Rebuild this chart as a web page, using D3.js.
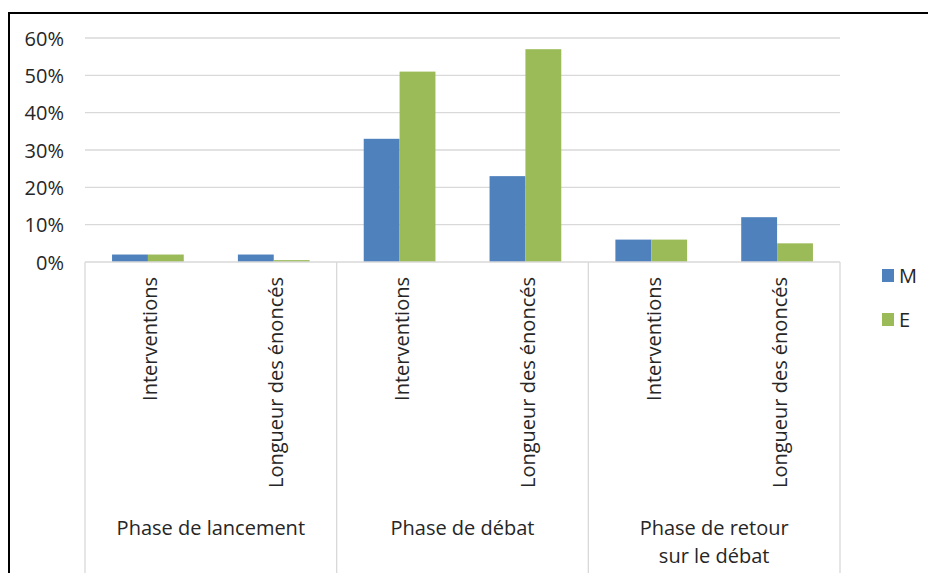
<html>
<head>
<script src="https://d3js.org/d3.v7.min.js"></script>
<style>
  body { margin: 0; background: white; }
  text { font-family: "Open Sans", sans-serif; fill: #262626; }
</style>
</head>
<body>
<svg id="chart" width="928" height="573"></svg>
<script>
  const groups = ["Phase de lancement", "Phase de débat", "Phase de retour\nsur le débat"];
  const measures = ["Interventions", "Longueur des énoncés"];
  const series = ["M", "E"];
  const valuesM = [2, 2, 33, 23, 6, 12];
  const valuesE = [2, 0.5, 51, 57, 6, 5];
  const yTicks = [0, 10, 20, 30, 40, 50, 60];
  const colors = ["#4f81bd", "#9bbb59"];

  const svg = d3.select("#chart");
  const plotLeft = 85, plotRight = 840, plotTop = 38, plotBottom = 262;

  // frame of the picture (top and left edges only)
  svg.append("line").attr("x1", 8).attr("x2", 928).attr("y1", 13).attr("y2", 13)
     .attr("stroke", "black").attr("stroke-width", 2);
  svg.append("line").attr("x1", 9).attr("x2", 9).attr("y1", 12).attr("y2", 573)
     .attr("stroke", "black").attr("stroke-width", 2);

  const cats = [];
  groups.forEach((g, gi) => measures.forEach((m, mi) => cats.push({group: gi, measure: m, i: gi * 2 + mi})));

  const x = d3.scaleBand().domain(cats.map(d => d.i)).range([plotLeft, plotRight]).paddingInner(0.43).paddingOuter(0.215);
  const xs = d3.scaleBand().domain(series).range([0, x.bandwidth()]);
  const y = d3.scaleLinear().domain([0, 60]).range([plotBottom, plotTop]);

  // gridlines
  svg.selectAll("line.grid").data(yTicks.slice(1)).join("line")
     .attr("class", "grid")
     .attr("x1", plotLeft).attr("x2", plotRight)
     .attr("y1", d => y(d)).attr("y2", d => y(d))
     .attr("stroke", "#d9d9d9").attr("stroke-width", 1.3);

  svg.selectAll("text.ytick").data(yTicks).join("text")
     .attr("class", "ytick")
     .attr("x", 64).attr("y", d => y(d))
     .attr("text-anchor", "end").attr("dominant-baseline", "central")
     .style("font-size", "20px")
     .text(d => d + "%");

  // bars
  const data = [valuesM, valuesE];
  series.forEach((s, si) => {
    svg.selectAll("rect.s" + si).data(cats).join("rect")
       .attr("class", "s" + si)
       .attr("x", d => x(d.i) + xs(s))
       .attr("width", xs.bandwidth())
       .attr("y", d => y(data[si][d.i]))
       .attr("height", d => y(0) - y(data[si][d.i]))
       .attr("fill", colors[si]);
  });

  // category axis
  svg.append("line").attr("x1", plotLeft).attr("x2", plotRight).attr("y1", plotBottom).attr("y2", plotBottom)
     .attr("stroke", "#d9d9d9").attr("stroke-width", 1.3);
  const gw = (plotRight - plotLeft) / groups.length;
  svg.selectAll("line.sep").data(d3.range(groups.length + 1)).join("line")
     .attr("class", "sep")
     .attr("x1", d => plotLeft + d * gw).attr("x2", d => plotLeft + d * gw)
     .attr("y1", plotBottom).attr("y2", 573)
     .attr("stroke", "#d9d9d9").attr("stroke-width", 1.3);

  svg.selectAll("text.cat").data(cats).join("text")
     .attr("class", "cat")
     .attr("transform", d => "translate(" + (x(d.i) + x.bandwidth() / 2 + 2) + ",277) rotate(-90)")
     .attr("text-anchor", "end").attr("dominant-baseline", "central")
     .style("font-size", "20px")
     .text(d => d.measure);

  groups.forEach((g, gi) => {
    const t = svg.append("text")
       .attr("x", plotLeft + gi * gw + gw / 2).attr("y", 535)
       .attr("text-anchor", "middle")
       .style("font-size", "20px");
    g.split("\n").forEach((line, li) => {
      t.append("tspan").attr("x", plotLeft + gi * gw + gw / 2).attr("dy", li ? 28 : 0).text(line);
    });
  });

  // legend
  const leg = svg.selectAll("g.leg").data(series).join("g")
     .attr("class", "leg")
     .attr("transform", (d, i) => "translate(882," + (269 + i * 44) + ")");
  leg.append("rect").attr("width", 12).attr("height", 13).attr("fill", (d, i) => colors[i]);
  leg.append("text").attr("x", 17).attr("y", 6).attr("dominant-baseline", "central")
     .style("font-size", "20px").text(d => d);
</script>
</body>
</html>
